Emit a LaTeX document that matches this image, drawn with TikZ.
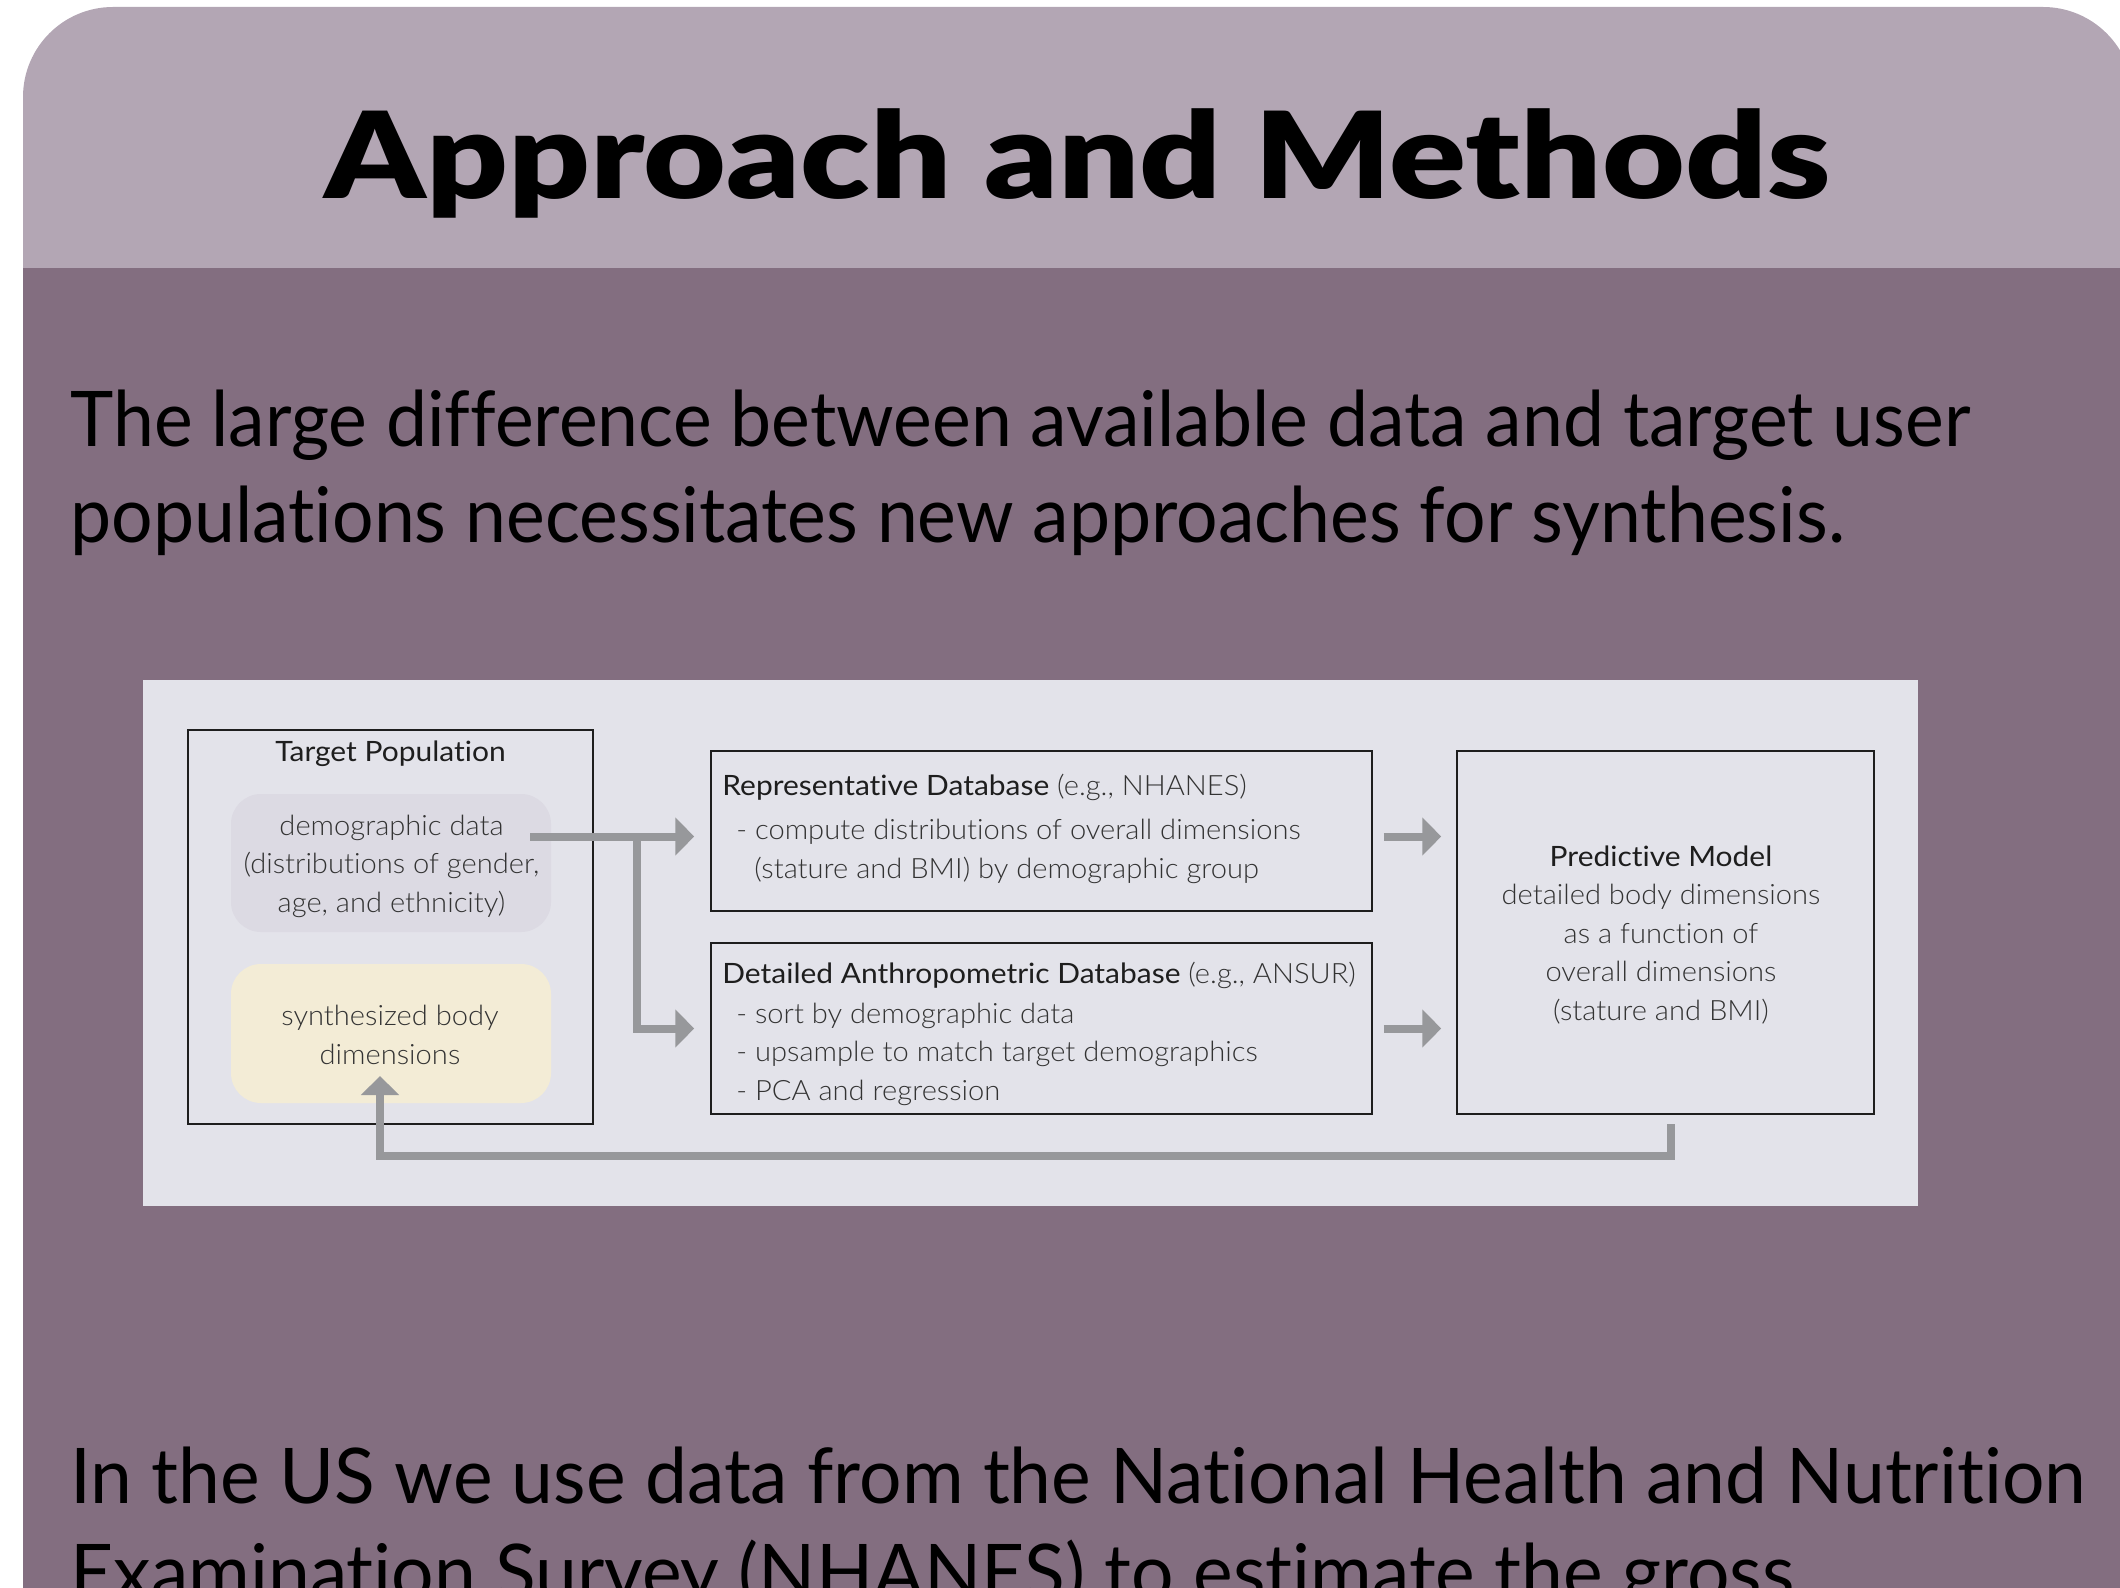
\documentclass[tikz,border=0pt]{standalone}
\usepackage{fontspec}
\usetikzlibrary{arrows.meta,calc}

\defaultfontfeatures{Ligatures=NoCommon}
\setmainfont{Lato}
\newfontfamily\regfont{Lato}[FakeStretch=1.07]
\newfontfamily\bodyfont{Lato}[FakeStretch=0.955]
\newfontfamily\closingfont{Lato}[FakeStretch=0.977]
\IfFontExistsTF{Lato Light}{\newfontfamily\lightfont{Lato Light}[FakeStretch=1.04]}{\newfontfamily\lightfont{Lato}[FakeStretch=1.0]}
\IfFontExistsTF{Lato Black}{\newfontfamily\heavyfont{Lato Black}[FakeStretch=1.19]}{\newfontfamily\heavyfont{Lato Bold}[FakeStretch=1.266,FakeBold=1]}

\definecolor{cardtop}{HTML}{B3A6B4}
\definecolor{cardbody}{HTML}{836E80}
\definecolor{panel}{HTML}{E3E3EA}
\definecolor{demofill}{HTML}{DCDAE3}
\definecolor{synthfill}{HTML}{F3ECD6}
\definecolor{flow}{HTML}{97989B}
\definecolor{ink}{HTML}{1E1E1E}
\definecolor{softink}{HTML}{333333}

\tikzset{
  frame/.style={draw=ink, line width=0.75pt, fill=none, inner sep=0pt},
  softbox/.style={rounded corners=15pt, draw=none, inner sep=0pt},
  diagtext/.style={inner sep=0pt, text=softink, font=\lightfont\fontsize{14}{19.2}\selectfont},
  flowline/.style={draw=flow, line width=4pt, -{Triangle[length=9.5pt,width=18.5pt]}},
  headline/.style={inner sep=0pt, text=black, font=\heavyfont\fontsize{60}{72}\selectfont},
  bodyline/.style={inner sep=0pt, text=black, align=left, font=\bodyfont\fontsize{38.4}{48}\selectfont},
}

\begin{document}
\begin{tikzpicture}[x=0.5pt, y=-0.5pt]
  \useasboundingbox (0,0) rectangle (2120,1588);
  \clip (0,0) rectangle (2120,1588);

  % slide card: light header band over the darker body
  \fill[cardtop, rounded corners=45pt] (23,1700) -- (23,7) -- (2133,7) -- (2133,1700) -- cycle;
  \fill[cardbody] (23,268) rectangle (2133,1700);

  \node[headline, anchor=base] (title) at (1077.5,199) {Approach and Methods};

  % multi-line nodes are anchored at the baseline of their last line
  \node[bodyline, anchor=base west] (intro) at (70,543)
    {The large difference between available data and target user\\
     populations necessitates new approaches for synthesis.};

  \node[bodyline, anchor=base west, font=\closingfont\fontsize{38.4}{48}\selectfont] (outro) at (70,1599)
    {In the US we use data from the National Health and Nutrition\\
     Examination Survey (NHANES) to estimate the gross};

  % diagram panel
  \fill[panel] (143,680) rectangle (1918,1206);

  % boxes
  \node[frame, minimum width=202.5pt, minimum height=197pt] (target) at (390.5,927) {};
  \node[softbox, fill=demofill, minimum width=160pt, minimum height=69pt] (demo) at (391,863) {};
  \node[softbox, fill=synthfill, minimum width=160pt, minimum height=69.5pt] (synth) at (391,1033.5) {};
  \node[frame, minimum width=330.5pt, minimum height=80pt] (rep) at (1041.5,831) {};
  \node[frame, minimum width=330.5pt, minimum height=85.5pt] (det) at (1041.5,1028.5) {};
  \node[frame, minimum width=208.5pt, minimum height=181.5pt] (pred) at (1665.5,932.5) {};

  % box texts
  \node[diagtext, anchor=base, text=ink, font=\regfont\fontsize{14}{19.2}\selectfont] (targettitle) at (390.5,761) {Target Population};
  \node[diagtext, anchor=base, align=center] (demotext) at (391.5,912)
    {demographic data\\(distributions of gender,\\age, and ethnicity)};
  \node[diagtext, anchor=base, align=center] (synthtext) at (390,1064)
    {synthesized body\\dimensions};
  \node[diagtext, anchor=base west, align=left] (reptext) at (722,878)
    {{\regfont\color{ink}Representative Database} (e.g., NHANES)\\[3pt]
     \hspace{7pt}- compute distributions of overall dimensions\\
     \hspace{16pt}(stature and BMI) by demographic group};
  \node[diagtext, anchor=base west, align=left] (dettext) at (722,1100)
    {{\regfont\color{ink}Detailed Anthropometric Database} (e.g., ANSUR)\\[0.5pt]
     \hspace{7pt}- sort by demographic data\\
     \hspace{7pt}- upsample to match target demographics\\
     \hspace{7pt}- PCA and regression};
  \node[diagtext, anchor=base, align=center] (predtext) at (1661,1020)
    {{\regfont\color{ink}Predictive Model}\\detailed body dimensions\\as a function of\\overall dimensions\\(stature and BMI)};

  % connectors
  \coordinate (demoout) at (530,836.5);
  \coordinate (split) at (636.5,836.5);
  \coordinate (predout) at (1671,1124);
  \coordinate (synthin) at (380,1076);

  \draw[flowline, shorten >=8pt] (demoout) -- (rep.west |- demoout);
  \draw[flowline, shorten >=8pt] (split) |- (det.west);
  \draw[flowline, shorten <=5.5pt, shorten >=7.5pt] (rep.east |- demoout) -- (pred.west |- demoout);
  \draw[flowline, shorten <=5.5pt, shorten >=7.5pt] (det.east) -- (pred.west |- det.east);
  \draw[flowline] (predout) -- ++(0,32) -| (synthin);
\end{tikzpicture}
\end{document}
